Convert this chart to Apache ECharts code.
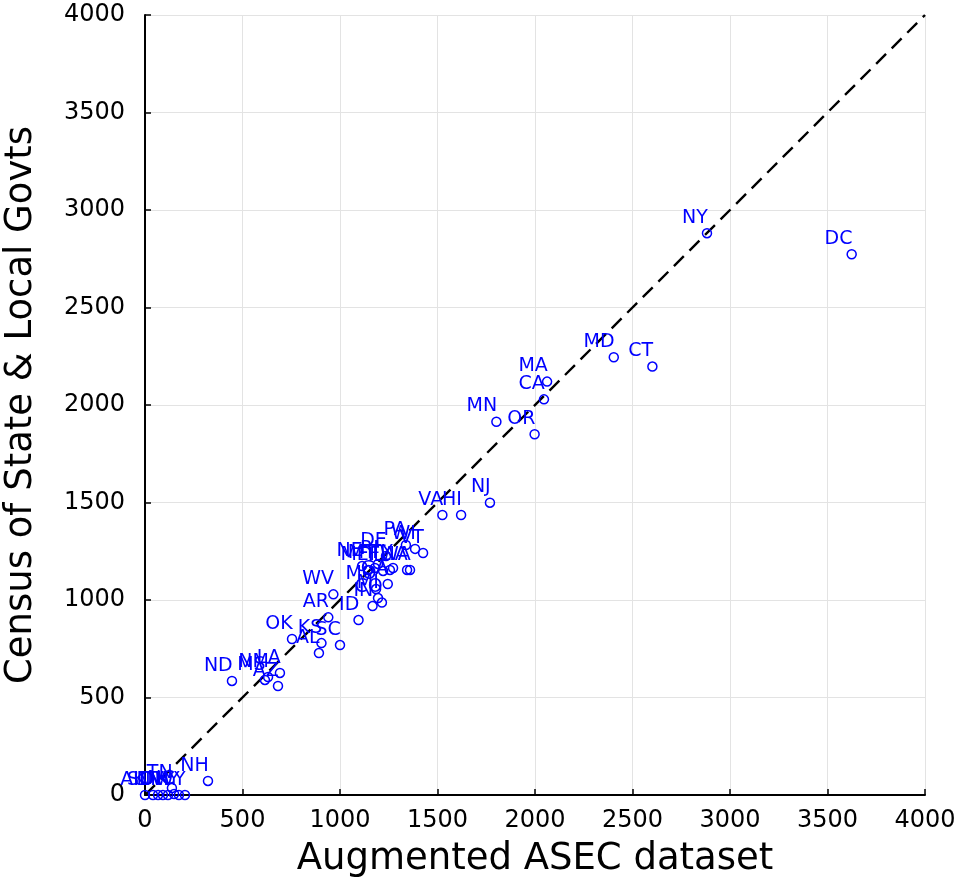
<!DOCTYPE html>
<html>
<head>
<meta charset="utf-8">
<script src="https://cdn.jsdelivr.net/npm/echarts@6/dist/echarts.min.js"></script>
<style>html,body{margin:0;padding:0;background:#fff}#c{width:959px;height:884px}</style>
</head>
<body>
<div id="c"></div>
<script>
var states = ["NY","DC","MD","CT","MA","CA","MN","OR","NJ","VA","HI",
  "PA","WI","VT","DE","NE","ME","RI","IL","FL","MT","IA","WA","TX",
  "WV","AR","ID","MO","GA","CO","IN","MI",
  "OK","KS","AL","SC","NM","MS","LA","AZ","ND",
  "NH","TN","AK","SD","UT","NV","WY","NC","KY","OH"];
var asec = [2882,3624,2404,2602,2062,2046,1802,1998,1769,1525,1621,
  1338,1385,1426,1236,1113,1144,1195,1221,1256,1179,1344,1359,1272,
  966,940,1095,1185,1245,1215,1167,1195,
  754,905,892,1000,631,615,692,682,446,
  323,138,0,41,67,92,205,149,174,118];
var census = [2881,2773,2245,2197,2120,2029,1914,1850,1499,1436,1436,
  1282,1262,1241,1226,1174,1154,1185,1149,1154,1164,1154,1154,1164,
  1029,911,897,1056,1082,987,969,1010,
  800,779,728,769,605,590,626,559,585,
  72,36,0,0,0,0,0,5,0,0];
var diagonal = [[0,0],[4000,4000]];

var pts = states.map(function(s,i){return {name:s, value:[asec[i], census[i]]};});
var font = 'DejaVu Sans';
function axis(name, gap, isY){
  return {
    type:'value', min:0, max:4000, interval:500, name:name,
    nameLocation:'middle', nameGap:gap,
    nameTextStyle:{fontFamily:font, fontSize:37, color:'#000'},
    axisLine:{show:true, lineStyle:{color:'#000', width:2}},
    axisTick:{show:true, inside:true, length:6, lineStyle:{color:'#000', width:1.5}},
    axisLabel:{fontFamily:font, fontSize:24, color:'#000', margin: isY ? 20 : 14,
      formatter:function(v){return String(v);}},
    splitLine:{show:true, lineStyle:{color:'#e3e3e3', width:1}}
  };
}
var chart = echarts.init(document.getElementById('c'), null, {renderer:'canvas'});
chart.setOption({
  animation:false,
  grid:{left:145, right:34, top:15, bottom:89, containLabel:false, outerBoundsMode:'none'},
  xAxis: axis('Augmented ASEC dataset', 46, false),
  yAxis: axis('Census of State & Local Govts', 105, true),
  series:[
    {type:'line', data:diagonal, symbol:'none', silent:true,
     lineStyle:{color:'#000', width:2.4, type:[14,8]}, z:1},
    {type:'scatter', data:pts, symbol:'circle', symbolSize:9,
     itemStyle:{color:'rgba(0,0,0,0)', borderColor:'#0000ff', borderWidth:1.5, opacity:1},
     label:{show:true, formatter:'{b}', position:[6,-0.5], align:'right', verticalAlign:'bottom',
       fontFamily:font, fontSize:19, color:'#0000ff', opacity:1},
     labelLayout:{hideOverlap:false}, z:3}
  ]
});
</script>
</body>
</html>
